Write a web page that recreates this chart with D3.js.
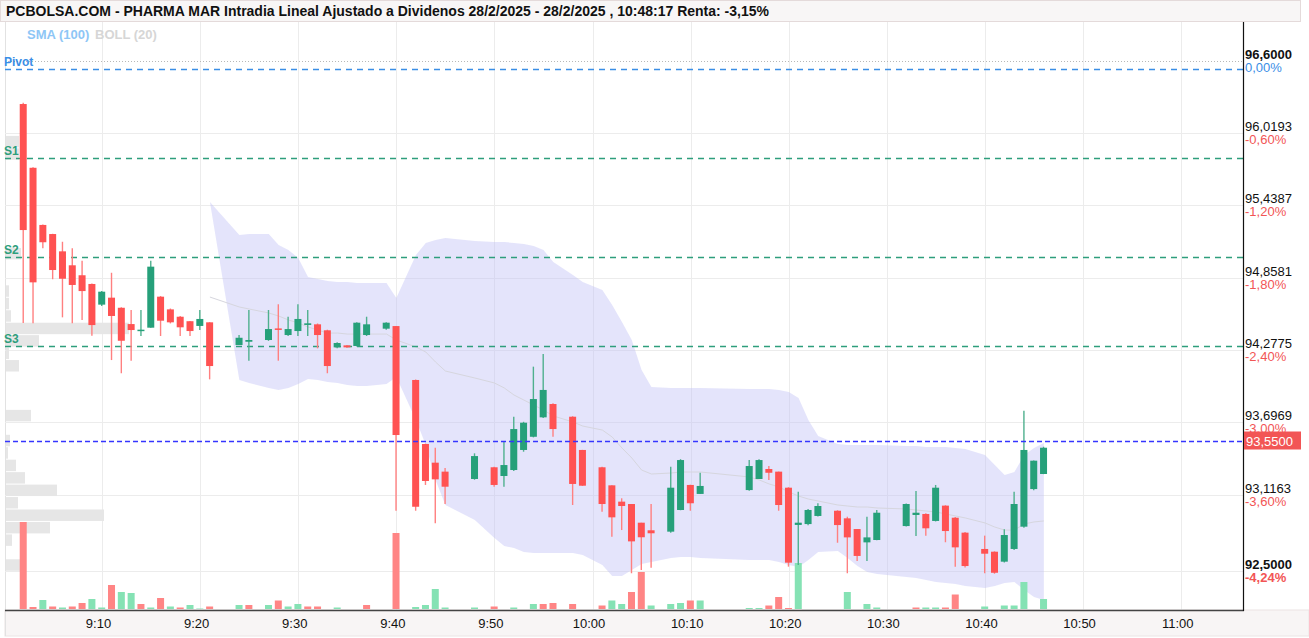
<!DOCTYPE html>
<html lang="es">
<head>
<meta charset="UTF-8"/>
<title>PHARMA MAR Intradia</title>
<script src="https://d3js.org/d3.v7.min.js"></script>
<style>
body{margin:0;background:#fff;}
svg{display:block;font-family:"Liberation Sans",Arial,sans-serif;}
</style>
</head>
<body>
<script>

var w=1309;
var h=638;
var plotLeft=5, plotRight=1243, plotTop=22, plotBottom=610;

// candles, one per traded minute
var times=["9:02","9:03","9:04","9:05","9:06","9:07","9:08","9:09","9:10","9:11","9:12","9:13","9:14","9:15","9:16","9:17","9:18","9:19","9:20",
	"9:21","9:24","9:25","9:27","9:28","9:29","9:30","9:31","9:32","9:33","9:34","9:35","9:36","9:37","9:39","9:40",
	"9:42","9:43","9:44","9:45","9:48","9:50","9:51","9:52","9:53","9:54","9:55","9:56","9:58","9:59",
	"10:01","10:02","10:03","10:04","10:05","10:06","10:08","10:09","10:10","10:11",
	"10:16","10:17","10:18","10:19","10:20","10:21","10:22","10:23","10:25","10:26","10:27","10:28","10:29",
	"10:32","10:33","10:34","10:35","10:36","10:37","10:38","10:40","10:41","10:42","10:43","10:44","10:45","10:46"];
var opens=[96.252,95.740,95.281,95.208,95.069,94.957,94.877,94.807,94.641,94.697,94.616,94.485,94.430,94.456,94.705,94.603,94.544,94.508,94.470,
	94.499,94.317,94.343,94.357,94.450,94.397,94.429,94.478,94.483,94.435,94.298,94.314,94.309,94.397,94.448,94.469,
	94.036,93.522,93.372,93.300,93.241,93.335,93.265,93.313,93.474,93.580,93.736,93.843,93.741,93.474,
	93.335,93.190,93.059,93.040,92.890,92.829,92.818,92.992,93.193,93.121,
	93.152,93.241,93.321,93.300,93.171,92.872,92.879,92.944,92.986,92.925,92.839,92.732,92.751,
	92.863,92.952,92.960,92.904,93.027,92.930,92.810,92.679,92.657,92.577,92.679,92.858,93.160,93.281];
var highs=[96.262,95.745,95.285,95.210,95.146,95.094,94.994,94.810,94.750,94.897,94.620,94.598,94.598,94.994,94.710,94.610,94.550,94.510,94.598,
	94.500,94.397,94.598,94.598,94.644,94.544,94.644,94.598,94.490,94.440,94.340,94.315,94.500,94.544,94.500,94.470,
	94.040,93.525,93.492,93.330,93.447,93.340,93.540,93.741,93.700,94.143,94.245,93.850,93.745,93.475,
	93.340,93.190,93.086,93.040,92.890,93.040,93.340,93.400,93.195,93.292,
	93.393,93.400,93.345,93.300,93.175,93.139,93.000,93.046,92.990,92.938,92.840,92.938,92.992,
	93.045,93.145,92.965,93.193,93.030,92.935,92.815,92.786,92.660,92.837,93.139,93.789,93.390,93.500];
var lows=[94.494,94.491,95.094,94.845,94.539,94.491,94.518,94.391,94.630,94.196,94.090,94.191,94.389,94.456,94.389,94.490,94.389,94.389,94.437,
	94.041,94.317,94.191,94.350,94.191,94.389,94.389,94.389,94.290,94.090,94.290,94.295,94.305,94.389,94.440,92.986,
	92.986,93.193,92.885,93.040,93.235,93.179,93.179,93.305,93.460,93.575,93.730,93.580,93.032,93.185,
	92.978,92.777,92.831,92.484,92.510,92.529,92.810,92.990,92.986,93.120,
	93.146,93.240,93.233,92.986,92.537,92.551,92.870,92.940,92.729,92.484,92.582,92.582,92.750,
	92.860,92.783,92.786,92.900,92.733,92.537,92.530,92.484,92.480,92.570,92.670,92.850,93.150,93.280];
var closes=[95.240,94.820,95.142,94.919,94.849,94.799,94.750,94.477,94.745,94.550,94.351,94.437,94.440,94.946,94.512,94.499,94.459,94.429,94.526,
	94.148,94.375,94.357,94.445,94.440,94.445,94.526,94.491,94.397,94.148,94.333,94.298,94.496,94.483,94.496,93.594,
	93.018,93.225,93.238,93.179,93.425,93.193,93.353,93.642,93.693,93.883,93.956,93.642,93.201,93.187,
	93.040,92.933,93.024,92.740,92.773,92.805,93.171,93.393,93.046,93.185,
	93.345,93.393,93.291,93.032,92.569,92.890,92.992,93.024,92.871,92.772,92.623,92.772,92.970,
	93.040,92.970,92.845,93.171,92.823,92.692,92.542,92.641,92.488,92.791,93.040,93.474,93.388,93.492];
var volumes=[87000,2000,9000,2500,1500,2500,6000,10000,1500,24000,17000,16000,5000,1500,11000,2500,1500,4000,500,
	2500,4000,4000,4000,8500,2500,5000,2500,2500,0,1500,0,0,4000,0,76000,
	2000,4000,20000,1500,1500,2500,0,1500,0,5000,5000,6000,5000,0,
	3500,8500,5000,17000,37000,3500,5000,6000,8500,8500,
	1000,1000,3500,12000,1000,46000,0,0,0,17000,0,5000,1500,
	0,1500,1500,1500,1500,14500,0,2500,0,3500,3500,27000,0,10000];
var volumeUp=[0,0,1,0,1,0,0,1,1,0,1,1,0,1,0,1,0,1,1,
	0,1,0,1,0,1,1,0,0,0,1,0,0,0,0,0,
	1,1,1,1,1,0,1,1,1,1,0,0,0,0,
	0,1,1,0,0,1,1,1,0,1,
	1,1,0,0,0,1,1,1,0,1,0,1,1,
	1,0,1,1,0,0,0,1,1,1,1,1,1,1];

// Bollinger (20) starts at the 20th candle
var bollStart=19;
var bollUpper=[95.465,95.200,95.208,95.208,95.120,95.080,95.016,94.863,94.847,94.831,94.823,94.823,94.815,94.815,94.815,94.694,
	95.040,95.136,95.160,95.176,95.152,95.144,95.144,95.136,95.128,95.112,95.080,94.983,94.879,94.823,
	94.759,94.638,94.502,94.357,94.116,93.980,93.972,93.972,93.972,93.972,
	93.964,93.964,93.964,93.956,93.940,93.891,93.715,93.586,93.522,93.514,93.514,93.514,93.514,
	93.506,93.506,93.498,93.498,93.498,93.490,93.482,93.434,93.353,93.273,93.297,93.434,93.490,93.530];
var bollMid=[94.702,94.622,94.606,94.574,94.550,94.518,94.494,94.462,94.437,94.413,94.413,94.405,94.405,94.405,94.405,94.357,
	94.301,94.261,94.180,94.108,94.052,94.012,93.972,93.915,93.875,93.835,93.795,93.747,93.699,93.666,
	93.634,93.578,93.490,93.410,93.313,93.281,93.289,93.297,93.297,93.297,
	93.257,93.233,93.201,93.177,93.137,93.104,93.080,93.064,93.032,93.024,93.016,93.016,93.008,
	93.000,92.992,92.984,92.976,92.960,92.944,92.928,92.888,92.855,92.831,92.831,92.880,92.896,92.904];
var bollLower=[95.465,94.036,94.012,93.972,93.956,93.972,94.004,94.044,94.036,94.020,94.012,93.996,93.988,93.988,94.004,94.060,
	93.715,93.514,93.233,93.032,92.912,92.767,92.703,92.687,92.655,92.647,92.647,92.647,92.647,92.631,
	92.550,92.462,92.462,92.510,92.558,92.574,92.607,92.615,92.615,92.607,
	92.590,92.590,92.590,92.574,92.550,92.534,92.590,92.655,92.663,92.607,92.542,92.494,92.478,
	92.454,92.446,92.430,92.414,92.406,92.398,92.382,92.366,92.382,92.406,92.414,92.350,92.293,92.269];

// volume by price (bins of 0,10)
var profileLow=[92.5,92.7,92.8,92.9,93.0,93.1,93.2,93.3,93.4,93.5,93.7,94.1,94.2,94.3,94.4,94.5,94.6,94.7,95.0,95.8,95.9];
var profileVol=[18,6,44,98,12,51,19,10,2,4,25,13,3,33,123,5,3,3,15,13,13];

// pivot levels
var levelNames=["Pivot","S1","S2","S3"];
var levelValues=[96.533,95.816,95.026,94.312];

var priceTicks=[96.6,96.0193,95.4387,94.8581,94.2775,93.6969,93.1163,92.5];
var pctTicks=["0,00%","-0,60%","-1,20%","-1,80%","-2,40%","-3,00%","-3,60%","-4,24%"];
var lastPrice=93.55;
var timeTicks=["9:10","9:20","9:30","9:40","9:50","10:00","10:10","10:20","10:30","10:40","10:50","11:00"];

var title="PCBOLSA.COM - PHARMA MAR Intradia Lineal Ajustado a Dividenos 28/2/2025 - 28/2/2025 , 10:48:17 Renta: -3,15%";

var parseT=d3.timeParse("%H:%M");
var es=d3.formatLocale({decimal:",",thousands:".",grouping:[3],currency:["","€"]});
var fmtPrice=es.format(".4f");

var xScale=d3.scaleTime()
	.domain([parseT("9:00"),d3.timeParse("%H:%M:%S")("11:06:18")])
	.range([3.9,plotRight]);

var yScale=d3.scaleLinear()
	.domain([92.1889,96.9107])
	.range([plotBottom,plotTop]);

var vScale=d3.scaleLinear()
	.domain([0,100000])
	.range([609,509]);

var pScale=d3.scaleLinear()
	.domain([0,100])
	.range([0,100]);

var svg=d3.select("body")
	.append("svg")
	.attr("width",w)
	.attr("height",h);

// title bar
svg.append("rect")
	.attr("x",0.5).attr("y",0.5)
	.attr("width",1300).attr("height",21)
	.attr("fill","#f8f6f6")
	.attr("stroke","#e4dada");
svg.append("text")
	.attr("x",6).attr("y",16)
	.attr("font-size","14px")
	.attr("font-weight","bold")
	.attr("fill","#111")
	.text(title);

// bottom strip
svg.append("rect")
	.attr("x",plotLeft).attr("y",plotBottom)
	.attr("width",w-plotLeft).attr("height",h-plotBottom-2)
	.attr("fill","#f8f5f5")
	.attr("stroke","#ece4e4");

// left border
svg.append("line")
	.attr("x1",plotLeft+0.5).attr("x2",plotLeft+0.5)
	.attr("y1",plotTop).attr("y2",h-2)
	.attr("stroke","#e2e2e2");

// vertical grid
svg.selectAll(".vgrid")
	.data(timeTicks)
	.enter()
	.append("line")
	.attr("class","vgrid")
	.attr("x1",function(d){return Math.round(xScale(parseT(d)))+0.5;})
	.attr("x2",function(d){return Math.round(xScale(parseT(d)))+0.5;})
	.attr("y1",plotTop)
	.attr("y2",plotBottom)
	.attr("stroke","#ececec");

// horizontal grid
svg.selectAll(".hgrid")
	.data(priceTicks.slice(1))
	.enter()
	.append("line")
	.attr("class","hgrid")
	.attr("x1",plotLeft)
	.attr("x2",plotRight)
	.attr("y1",function(d){return Math.round(yScale(d))+0.5;})
	.attr("y2",function(d){return Math.round(yScale(d))+0.5;})
	.attr("stroke","#ececec");

svg.append("line")
	.attr("x1",plotLeft).attr("x2",plotRight)
	.attr("y1",Math.round(yScale(priceTicks[0]))+0.5)
	.attr("y2",Math.round(yScale(priceTicks[0]))+0.5)
	.attr("stroke","#b8b8b8")
	.attr("stroke-dasharray","1,2");

// volume profile
svg.selectAll(".prof")
	.data(profileLow)
	.enter()
	.append("rect")
	.attr("class","prof")
	.attr("x",plotLeft+1)
	.attr("y",function(d){return yScale(d+0.1)+0.5;})
	.attr("width",function(d,i){return pScale(profileVol[i]);})
	.attr("height",function(d){return yScale(d)-yScale(d+0.1)-1;})
	.attr("fill","#e6e6e6");

// bollinger band
var bollIdx=d3.range(bollUpper.length);
var band=d3.area()
	.x(function(i){return xScale(parseT(times[bollStart+i]));})
	.y0(function(i){return yScale(bollLower[i]);})
	.y1(function(i){return yScale(bollUpper[i]);});
svg.append("path")
	.datum(bollIdx)
	.attr("d",band)
	.attr("fill","rgba(190,190,245,0.42)");

var mid=d3.line()
	.x(function(i){return xScale(parseT(times[bollStart+i]));})
	.y(function(i){return yScale(bollMid[i]);});
svg.append("path")
	.datum(bollIdx)
	.attr("d",mid)
	.attr("fill","none")
	.attr("stroke","#d6d6de")
	.attr("stroke-width",1);

// volume bars
var idx=d3.range(times.length);
svg.selectAll(".vol")
	.data(idx.filter(function(i){return volumes[i]>0;}))
	.enter()
	.append("rect")
	.attr("class","vol")
	.attr("x",function(i){return xScale(parseT(times[i]))-3.8;})
	.attr("width",7)
	.attr("y",function(i){return vScale(volumes[i]);})
	.attr("height",function(i){return vScale(0)-vScale(volumes[i]);})
	.attr("fill",function(i){return volumeUp[i]?"#85e2b4":"#ff8585";});

// pivot levels
var levelColors=["#3a8ee6","#2e9e7c","#2e9e7c","#2e9e7c"];
svg.selectAll(".level")
	.data(levelValues)
	.enter()
	.append("line")
	.attr("class","level")
	.attr("x1",plotLeft)
	.attr("x2",plotRight)
	.attr("y1",function(d){return Math.round(yScale(d))+0.5;})
	.attr("y2",function(d){return Math.round(yScale(d))+0.5;})
	.attr("stroke",function(d,i){return levelColors[i];})
	.attr("stroke-width",1.3)
	.attr("stroke-dasharray","6,5");
svg.selectAll(".levelLbl")
	.data(levelValues)
	.enter()
	.append("text")
	.attr("class","levelLbl")
	.attr("x",4)
	.attr("y",function(d){return yScale(d)-3;})
	.attr("font-size","12px")
	.attr("font-weight","bold")
	.attr("fill",function(d,i){return levelColors[i];})
	.text(function(d,i){return levelNames[i];});

// candles
var candles=svg.selectAll(".candle")
	.data(idx)
	.enter()
	.append("g")
	.attr("class","candle");
candles.append("line")
	.attr("x1",function(i){return xScale(parseT(times[i]))-0.3;})
	.attr("x2",function(i){return xScale(parseT(times[i]))-0.3;})
	.attr("y1",function(i){return yScale(highs[i]);})
	.attr("y2",function(i){return yScale(lows[i]);})
	.attr("stroke",function(i){return closes[i]>=opens[i]?"#4fb08e":"#ff8080";})
	.attr("stroke-width",1.4);
candles.append("rect")
	.attr("x",function(i){return xScale(parseT(times[i]))-3.8;})
	.attr("width",7)
	.attr("y",function(i){return yScale(Math.max(opens[i],closes[i]));})
	.attr("height",function(i){return Math.max(1.5,Math.abs(yScale(opens[i])-yScale(closes[i])));})
	.attr("fill",function(i){return closes[i]>=opens[i]?"#26a07a":"#ff5252";});

// last price line
svg.append("line")
	.attr("x1",plotLeft).attr("x2",plotRight)
	.attr("y1",Math.round(yScale(lastPrice))+0.5)
	.attr("y2",Math.round(yScale(lastPrice))+0.5)
	.attr("stroke","#3535ff")
	.attr("stroke-width",1.5)
	.attr("stroke-dasharray","5,3");

// legend
svg.append("text")
	.attr("x",27).attr("y",39)
	.attr("font-size","13px").attr("font-weight","bold")
	.attr("fill","#8ec6f6")
	.text("SMA (100)");
svg.append("text")
	.attr("x",95).attr("y",39)
	.attr("font-size","13px").attr("font-weight","bold")
	.attr("fill","#d6d6d6")
	.text("BOLL (20)");

// time axis
var xAxis=d3.axisBottom(xScale)
	.tickValues(timeTicks.map(parseT))
	.tickFormat(d3.timeFormat("%-H:%M"))
	.tickSize(0)
	.tickPadding(9);
var gx=svg.append("g")
	.attr("transform","translate(0,"+plotBottom+")")
	.call(xAxis);
gx.select(".domain").remove();
gx.selectAll("text")
	.attr("dx",-4)
	.attr("font-size","13px")
	.attr("font-family","Liberation Sans, Arial, sans-serif")
	.attr("fill","#111");

svg.append("line")
	.attr("x1",plotLeft).attr("x2",plotRight+1)
	.attr("y1",plotBottom+0.5).attr("y2",plotBottom+0.5)
	.attr("stroke","#444").attr("stroke-width",1.5);

// price axis
svg.append("line")
	.attr("x1",plotRight+0.5).attr("x2",plotRight+0.5)
	.attr("y1",plotTop).attr("y2",plotBottom+1)
	.attr("stroke","#111").attr("stroke-width",1.2);

var last=priceTicks.length-1;
svg.selectAll(".plbl")
	.data(priceTicks)
	.enter()
	.append("text")
	.attr("class","plbl")
	.attr("x",plotRight+2)
	.attr("y",function(d){return Math.round(yScale(d))-2;})
	.attr("font-size","13px")
	.attr("font-weight",function(d,i){return (i==0||i==last)?"bold":"normal";})
	.attr("fill","#111")
	.text(function(d){return fmtPrice(d);});
svg.selectAll(".pct")
	.data(priceTicks)
	.enter()
	.append("text")
	.attr("class","pct")
	.attr("x",plotRight+2)
	.attr("y",function(d){return Math.round(yScale(d))+11;})
	.attr("font-size","13px")
	.attr("font-weight",function(d,i){return i==last?"bold":"normal";})
	.attr("fill",function(d,i){return i==0?"#3a8ee6":"#f25555";})
	.text(function(d,i){return pctTicks[i];});

// last price tag
var ly=yScale(lastPrice);
svg.append("rect")
	.attr("x",plotRight+1).attr("y",ly-9)
	.attr("width",57).attr("height",18)
	.attr("fill","#f25555");
svg.append("text")
	.attr("x",plotRight+3).attr("y",ly+5)
	.attr("font-size","13px")
	.attr("fill","#fff")
	.text(fmtPrice(lastPrice));

</script>
</body>
</html>
